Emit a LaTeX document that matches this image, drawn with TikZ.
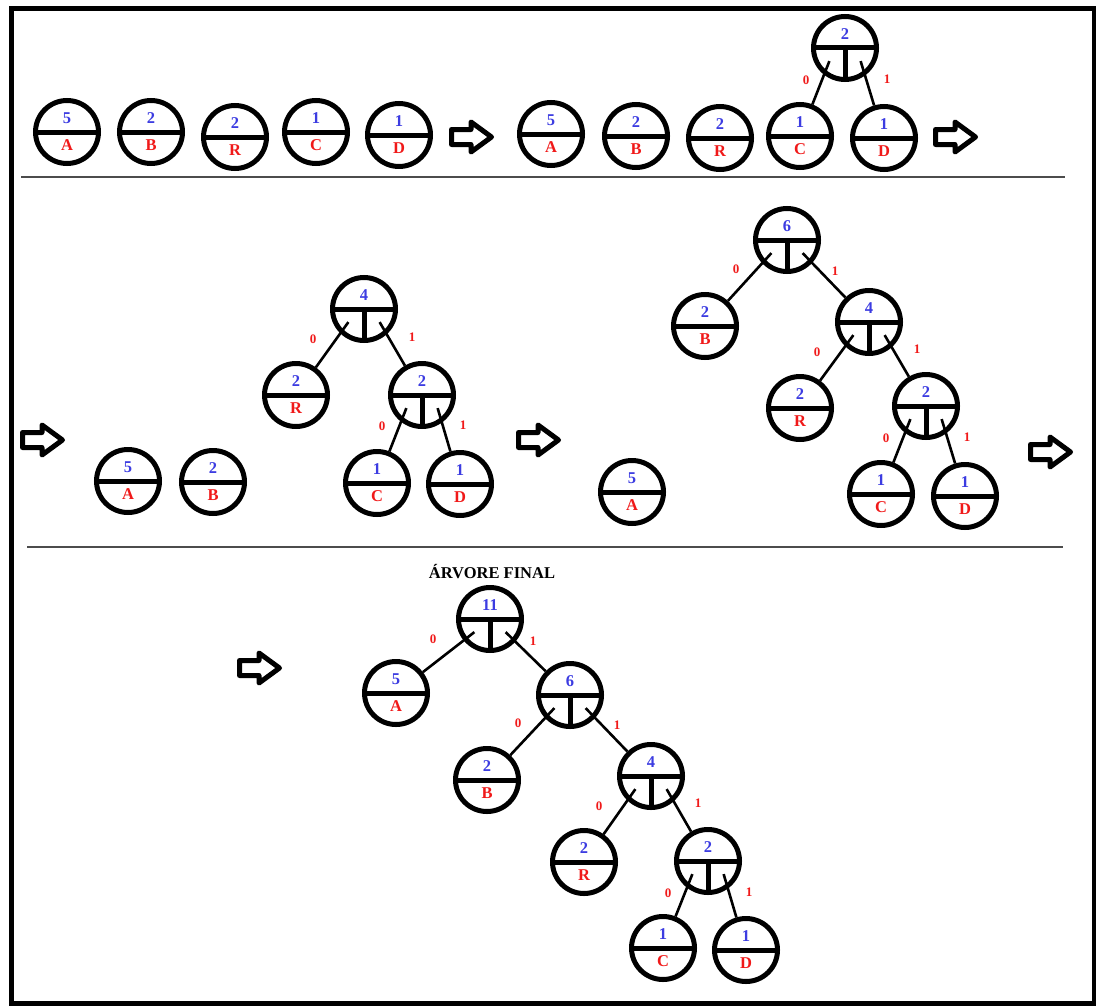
\documentclass[tikz,border=0pt]{standalone}
\usepackage{fontspec}
\setmainfont{Liberation Serif}
\usetikzlibrary{calc}

\definecolor{wblue}{RGB}{60,60,225}
\definecolor{cred}{RGB}{240,25,25}

\newcommand{\wt}[2]{\textcolor{wblue}{#1}\\\textcolor{cred}{#2}}
\newcommand{\bough}[3]{\draw[branch] ($(#1)!0.6!(#1.#2)$) -- (#3);}

\tikzset{
	ring/.style={circle, draw, line width=5pt, minimum size=63pt, inner sep=0pt,
		font=\fontsize{16.5}{27}\selectfont\bfseries, align=center},
	leaf/.style={ring,
		path picture={\draw[line width=5pt] (path picture bounding box.west) -- (path picture bounding box.east);}},
	fork/.style={ring,
		path picture={\draw[line width=5pt] (path picture bounding box.west) -- (path picture bounding box.east)
			(path picture bounding box.center) -- (path picture bounding box.south);}},
	branch/.style={line width=2.6pt},
	bit/.style={text=cred, font=\fontsize{13}{13}\selectfont\bfseries, inner sep=0pt},
	pics/fwd/.style={code={
		\draw[line width=5pt, line join=round] (-20.5,-7.5) -- (-1,-7.5) -- (-1,-15) -- (19.5,0)
			-- (-1,15) -- (-1,7.5) -- (-20.5,7.5) -- cycle;}},
}

\begin{document}
\begin{tikzpicture}[x=1pt, y=-1pt]
		\useasboundingbox (0,0) rectangle (1099,1006);
		\draw[line width=4.5pt] (11.5,8.5) rectangle (1094,1003.5);
		\draw[line width=1.2pt, black!70] (21,177) -- (1065,177);
		\draw[line width=1.2pt, black!70] (27,547) -- (1063,547);

		% step 1
		\node[leaf] (p1A) at (67,132) {\wt{5}{A}};
		\node[leaf] (p1B) at (151,132) {\wt{2}{B}};
		\node[leaf] (p1R) at (235,137) {\wt{2}{R}};
		\node[leaf] (p1C) at (316,132) {\wt{1}{C}};
		\node[leaf] (p1D) at (399,135) {\wt{1}{D}};
		\pic at (472,137) {fwd};

		% step 2
		\node[leaf] (p2A) at (551,134) {\wt{5}{A}};
		\node[leaf] (p2B) at (636,136) {\wt{2}{B}};
		\node[leaf] (p2R) at (720,138) {\wt{2}{R}};
		\node[leaf] (p2C) at (800,136) {\wt{1}{C}};
		\node[leaf] (p2D) at (884,138) {\wt{1}{D}};
		\node[fork] (p2n2) at (845,48) {\wt{2}{\vphantom{A}}};
		\bough{p2n2}{220}{p2C}
		\bough{p2n2}{320}{p2D}
		\pic at (956,137) {fwd};

		% step 3
		\pic at (43,440) {fwd};
		\node[leaf] (p3A) at (128,481) {\wt{5}{A}};
		\node[leaf] (p3B) at (213,482) {\wt{2}{B}};
		\node[fork] (p3n4) at (364,309) {\wt{4}{\vphantom{A}}};
		\node[leaf] (p3R) at (296,395) {\wt{2}{R}};
		\node[fork] (p3n2) at (422,395) {\wt{2}{\vphantom{A}}};
		\node[leaf] (p3C) at (377,483) {\wt{1}{C}};
		\node[leaf] (p3D) at (460,484) {\wt{1}{D}};
		\bough{p3n4}{220}{p3R}
		\bough{p3n4}{320}{p3n2}
		\bough{p3n2}{220}{p3C}
		\bough{p3n2}{320}{p3D}

		% step 4
		\pic at (539,440) {fwd};
		\node[leaf] (p4A) at (632,492) {\wt{5}{A}};
		\node[fork] (p4n6) at (787,240) {\wt{6}{\vphantom{A}}};
		\node[leaf] (p4B) at (705,326) {\wt{2}{B}};
		\node[fork] (p4n4) at (869,322) {\wt{4}{\vphantom{A}}};
		\node[leaf] (p4R) at (800,408) {\wt{2}{R}};
		\node[fork] (p4n2) at (926,406) {\wt{2}{\vphantom{A}}};
		\node[leaf] (p4C) at (881,494) {\wt{1}{C}};
		\node[leaf] (p4D) at (965,496) {\wt{1}{D}};
		\bough{p4n6}{220}{p4B}
		\bough{p4n6}{320}{p4n4}
		\bough{p4n4}{220}{p4R}
		\bough{p4n4}{320}{p4n2}
		\bough{p4n2}{220}{p4C}
		\bough{p4n2}{320}{p4D}
		\pic at (1051,452) {fwd};

		% final tree
		\pic at (260,668) {fwd};
		\node[font=\fontsize{16.5}{16.5}\selectfont\bfseries] (ttl) at (492,572) {ÁRVORE FINAL};
		\node[fork] (p5n11) at (490,619) {\wt{11}{\vphantom{A}}};
		\node[leaf] (p5A) at (396,693) {\wt{5}{A}};
		\node[fork] (p5n6) at (570,695) {\wt{6}{\vphantom{A}}};
		\node[leaf] (p5B) at (487,780) {\wt{2}{B}};
		\node[fork] (p5n4) at (651,776) {\wt{4}{\vphantom{A}}};
		\node[leaf] (p5R) at (584,862) {\wt{2}{R}};
		\node[fork] (p5n2) at (708,861) {\wt{2}{\vphantom{A}}};
		\node[leaf] (p5C) at (663,948) {\wt{1}{C}};
		\node[leaf] (p5D) at (746,950) {\wt{1}{D}};
		\bough{p5n11}{220}{p5A}
		\bough{p5n11}{320}{p5n6}
		\bough{p5n6}{220}{p5B}
		\bough{p5n6}{320}{p5n4}
		\bough{p5n4}{220}{p5R}
		\bough{p5n4}{320}{p5n2}
		\bough{p5n2}{220}{p5C}
		\bough{p5n2}{320}{p5D}

		% 0/1 on the branches
		\foreach \n/\x/\y/\t in {b1/806/80/0, b2/887/79/1,
				b3/313/339/0, b4/412/337/1, b5/382/426/0, b6/463/425/1,
				b7/736/269/0, b8/835/271/1, b9/817/352/0, b10/917/349/1, b11/886/438/0, b12/967/437/1,
				b13/433/639/0, b14/533/641/1, b15/518/723/0, b16/617/725/1,
				b17/599/806/0, b18/698/803/1, b19/668/893/0, b20/749/892/1}
			\node[bit] (\n) at (\x,\y) {\t};
	\end{tikzpicture}
\end{document}
